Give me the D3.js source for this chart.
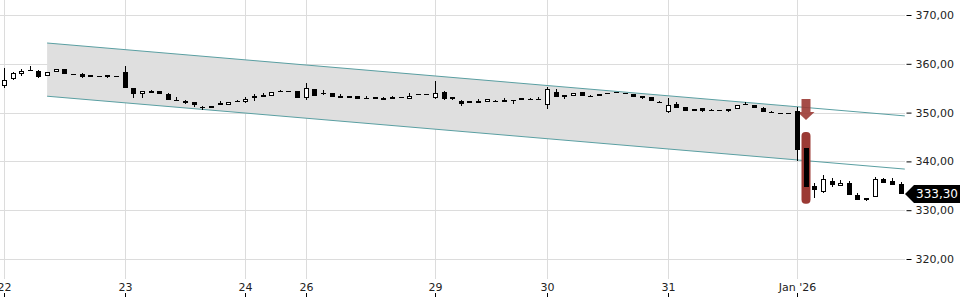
<!DOCTYPE html>
<html>
<head>
<meta charset="utf-8">
<script src="https://cdn.jsdelivr.net/npm/d3@7"></script>
<style>
  body { margin: 0; background: #fff; }
  svg { display: block; font-family: "DejaVu Sans", sans-serif; }
</style>
</head>
<body>
<div class="chart-container"></div>
<script>
var width = 960,
    height = 300;

// candles, one per index: open / high / low / close
var opens = [355.5, 356.95, 357.85, 358.7, 358.5, 357.5, 358.3, 358.9, 357.95, 357.9, 357.65, 357.45, 357.65, 357.55,
  358.4, 355.1, 353.75, 354.5, 354.35, 353.9, 352.5, 352.45, 352.2, 351.1, 350.9, 352.0, 351.6, 352.45,
  352.1, 352.95, 353.6, 353.35, 354.45, 354.35, 354.4,
  352.95, 354.85, 354.1, 353.95, 353.45, 352.95, 353.45, 352.95, 353.15, 353.05, 352.75, 353.1, 352.75, 353.75, 353.75,
  353.05, 354.3, 353.15, 352.45, 351.9, 352.45, 352.1, 352.45, 352.55, 352.6, 352.6, 352.85, 352.8,
  351.55, 354.3, 353.6, 353.4, 354.15, 353.5, 353.4, 353.75, 354.2, 354.0, 353.8, 353.4, 353.15, 352.25,
  350.05, 351.75, 351.1, 350.3, 350.9, 350.55, 350.55, 350.75, 350.7, 351.75, 351.55, 351.0, 350.2, 349.85, 349.85,
  350.3, 342.7, 334.95, 333.8, 336.05, 335.0, 335.5, 333.1, 332.1, 332.65, 336.35, 336.05, 335.3];
var highs = [359.2, 358.3, 359.0, 359.6, 358.7, 358.3, 359.0, 358.9, 358.0, 358.05, 357.75, 357.6, 357.8, 357.6,
  359.6, 355.1, 354.4, 354.6, 354.5, 353.95, 353.25, 352.6, 352.2, 351.3, 351.35, 352.3, 352.25, 352.5,
  353.25, 353.8, 353.95, 354.3, 354.6, 354.4, 354.45,
  356.0, 354.9, 354.6, 354.0, 353.75, 353.45, 353.5, 353.5, 353.2, 353.1, 353.5, 353.1, 354.0, 353.8, 353.8,
  356.5, 354.35, 353.2, 352.5, 352.45, 352.8, 352.7, 352.5, 352.9, 352.6, 352.95, 352.9, 353.1,
  355.2, 354.85, 353.6, 354.1, 354.2, 353.6, 353.8, 354.1, 354.25, 354.05, 353.85, 353.5, 353.2, 352.3,
  352.9, 352.1, 351.15, 350.65, 350.95, 350.7, 350.6, 350.8, 351.55, 352.1, 351.6, 351.05, 350.4, 349.9, 349.9,
  351.1, 342.8, 335.5, 337.2, 336.55, 336.2, 336.05, 333.5, 332.6, 336.85, 336.6, 336.5, 335.85];
var lows = [355.1, 356.7, 357.5, 358.45, 357.15, 357.5, 358.3, 358.0, 357.7, 357.15, 357.2, 357.2, 357.1, 357.5,
  355.0, 353.05, 353.0, 354.1, 353.75, 352.6, 352.4, 351.7, 351.2, 350.6, 350.9, 351.6, 351.6, 352.4,
  351.9, 352.45, 353.2, 353.3, 354.3, 354.2, 353.05,
  352.6, 353.4, 353.7, 353.25, 353.05, 352.95, 352.8, 352.85, 352.75, 352.6, 352.75, 353.0, 352.75, 353.7, 353.7,
  352.8, 352.5, 352.5, 351.4, 351.9, 352.0, 352.1, 352.1, 352.1, 351.8, 352.6, 352.8, 352.5,
  350.7, 353.25, 352.7, 353.4, 353.4, 353.35, 353.4, 353.75, 354.15, 353.9, 353.15, 352.8, 352.45, 352.2,
  350.0, 350.9, 350.4, 350.3, 350.05, 350.35, 350.45, 350.05, 350.7, 351.65, 350.9, 350.2, 349.85, 349.8, 349.8,
  340.1, 334.8, 332.45, 333.6, 334.8, 335.0, 333.1, 332.1, 331.9, 332.65, 335.5, 335.15, 333.25];
var closes = [356.7, 358.05, 358.6, 358.45, 357.35, 358.3, 359.0, 358.0, 357.85, 357.35, 357.3, 357.4, 357.25, 357.5,
  355.0, 353.75, 354.35, 354.1, 353.75, 352.6, 352.4, 351.9, 351.5, 351.05, 351.35, 351.6, 352.25, 352.4,
  352.8, 353.5, 353.25, 354.2, 354.4, 354.2, 353.05,
  355.0, 353.4, 353.75, 353.25, 353.05, 353.45, 352.8, 352.85, 352.75, 352.6, 353.2, 353.0, 353.45, 353.7, 353.7,
  353.95, 352.8, 352.75, 351.75, 352.45, 352.0, 352.7, 352.1, 352.1, 352.35, 352.95, 352.8, 352.75,
  354.75, 353.25, 353.25, 354.1, 353.4, 353.45, 353.8, 354.1, 354.15, 353.9, 353.15, 352.95, 352.45, 352.2,
  351.55, 350.9, 350.4, 350.65, 350.4, 350.5, 350.45, 350.4, 351.55, 351.65, 350.9, 350.2, 349.85, 349.8, 349.8,
  342.35, 334.8, 334.15, 336.3, 335.15, 335.5, 333.1, 332.1, 332.45, 336.35, 335.5, 335.15, 333.3];

// day labels sit on the first candle of each session
var dayIndex = [0, 14, 28, 35, 50, 63, 77, 92];
var dayLabels = ["22", "23", "24", "26", "29", "30", "31", "Jan '26"];

var priceTicks = [320, 330, 340, 350, 360, 370];

// trend channel (start / end index, upper and lower values)
var channelIdx = [5, 92];
var channelUpper = [364.26, 351.2];
var channelLower = [353.36, 340.3];
var channelEndIdx = 104.5;

// signal marker on the gap candle
var signalIdx = 93;
var arrowTop = 352.8, arrowTip = 348.5;
var markTop = 346.0, markBottom = 331.3;

var lastPrice = 333.3;

var candles = opens.map(function(o, i) {
  return { i: i, o: o, h: highs[i], l: lows[i], c: closes[i] };
});

var x = d3.scaleLinear().domain([0, 104]).range([4, 900.5]);
var y = d3.scaleLinear().domain([320, 370]).range([259, 15]);
var plotRight = 905;

var fmt = function(v) { return d3.format(".2f")(v).replace(".", ","); };

var svg = d3.select(".chart-container").append("svg")
            .attr("width", width)
            .attr("height", height);

// grid
svg.append("g").selectAll("line")
    .data(priceTicks)
    .enter().append("line")
    .attr("x1", 0).attr("x2", plotRight)
    .attr("y1", d => Math.round(y(d)) + 0.5)
    .attr("y2", d => Math.round(y(d)) + 0.5)
    .style("stroke", "#dcdcdc");

svg.append("g").selectAll("line")
    .data(dayIndex)
    .enter().append("line")
    .attr("x1", d => Math.round(x(d)) + 0.5)
    .attr("x2", d => Math.round(x(d)) + 0.5)
    .attr("y1", 0).attr("y2", 279)
    .style("stroke", "#dcdcdc");

// channel fill
var slope = function(vals) {
  return (vals[1] - vals[0]) / (channelIdx[1] - channelIdx[0]);
};
var upAt = i => channelUpper[0] + slope(channelUpper) * (i - channelIdx[0]);
var loAt = i => channelLower[0] + slope(channelLower) * (i - channelIdx[0]);

var area = [
  [x(channelIdx[0]), y(upAt(channelIdx[0]))],
  [x(channelIdx[1]), y(upAt(channelIdx[1]))],
  [x(channelIdx[1]), y(loAt(channelIdx[1]))],
  [x(channelIdx[0]), y(loAt(channelIdx[0]))]
];
svg.append("path")
    .attr("d", "M" + area.join("L") + "Z")
    .style("fill", "#dfdfdf");

[upAt, loAt].forEach(function(fn) {
  svg.append("line")
      .attr("x1", x(channelIdx[0])).attr("y1", y(fn(channelIdx[0])))
      .attr("x2", x(channelEndIdx)).attr("y2", y(fn(channelEndIdx)))
      .style("stroke", "#5a9fa2")
      .style("stroke-width", 1);
});

// signal marker (behind the candle)
var sx = Math.round(x(signalIdx));
svg.append("rect")
    .attr("x", sx - 4.5).attr("width", 9)
    .attr("y", y(markTop)).attr("height", y(markBottom) - y(markTop))
    .attr("rx", 4)
    .style("fill", "#9b3a34");

var shaftEnd = y(arrowTip) - 8;
svg.append("path")
    .attr("d", "M" + (sx - 4.5) + "," + y(arrowTop) +
               "L" + (sx + 4.5) + "," + y(arrowTop) +
               "L" + (sx + 4.5) + "," + shaftEnd +
               "L" + (sx + 8.5) + "," + shaftEnd +
               "L" + sx + "," + y(arrowTip) +
               "L" + (sx - 8.5) + "," + shaftEnd +
               "L" + (sx - 4.5) + "," + shaftEnd + "Z")
    .style("fill", "#9b3a34")
    .style("opacity", 0.9);

// candles
var bodyTop = d => Math.round(y(Math.max(d.o, d.c)));
var bodyBot = d => Math.round(y(Math.min(d.o, d.c)));

var cg = svg.append("g").selectAll("g")
    .data(candles)
    .enter().append("g");

cg.append("line")
    .attr("x1", d => Math.round(x(d.i)) + 0.5)
    .attr("x2", d => Math.round(x(d.i)) + 0.5)
    .attr("y1", d => Math.round(y(d.h)))
    .attr("y2", d => Math.round(y(d.l)))
    .style("stroke", "#000");

// real bodies
cg.filter(d => bodyBot(d) - bodyTop(d) >= 2)
  .append("rect")
    .attr("x", d => Math.round(x(d.i)) - 2 + 0.5)
    .attr("width", 4)
    .attr("y", d => bodyTop(d) + 0.5)
    .attr("height", d => bodyBot(d) - bodyTop(d) - 1)
    .style("fill", d => d.c >= d.o ? "#fff" : "#000")
    .style("stroke", "#000");

// flat bodies drawn as a dash
cg.filter(d => bodyBot(d) - bodyTop(d) < 2)
  .append("rect")
    .attr("x", d => Math.round(x(d.i)) - 2)
    .attr("width", 5)
    .attr("y", d => bodyTop(d))
    .attr("height", d => Math.max(1, bodyBot(d) - bodyTop(d)))
    .style("fill", "#000");

// right price axis
var yAxis = d3.axisRight(y)
    .tickValues(priceTicks)
    .tickSize(5)
    .tickPadding(4)
    .tickFormat(fmt);

var ya = svg.append("g")
    .attr("transform", "translate(906.5,0)")
    .call(yAxis);
ya.select(".domain").remove();
ya.selectAll("text").style("font-size", "11px").style("fill", "#222")
    .style("font-family", "DejaVu Sans, sans-serif");

// bottom day labels, ticks under the text
var xa = svg.append("g");
xa.selectAll("text")
    .data(dayIndex)
    .enter().append("text")
    .attr("x", d => Math.round(x(d)) + 0.5)
    .attr("y", 291)
    .attr("text-anchor", "middle")
    .style("font-size", "11px")
    .style("fill", "#222")
    .text((d, i) => dayLabels[i]);
xa.selectAll("line")
    .data(dayIndex)
    .enter().append("line")
    .attr("x1", d => Math.round(x(d)) + 0.5)
    .attr("x2", d => Math.round(x(d)) + 0.5)
    .attr("y1", 293).attr("y2", 297)
    .style("stroke", "#000");

// last price tag
var py = y(lastPrice);
svg.append("path")
    .attr("d", "M905," + py + "L914," + (py - 9) + "L960," + (py - 9) +
               "L960," + (py + 9) + "L914," + (py + 9) + "Z")
    .style("fill", "#000");
svg.append("text")
    .attr("x", 916)
    .attr("y", py)
    .attr("dy", "0.36em")
    .style("font-size", "12px")
    .style("fill", "#fff")
    .text(fmt(lastPrice));
</script>
</body>
</html>
